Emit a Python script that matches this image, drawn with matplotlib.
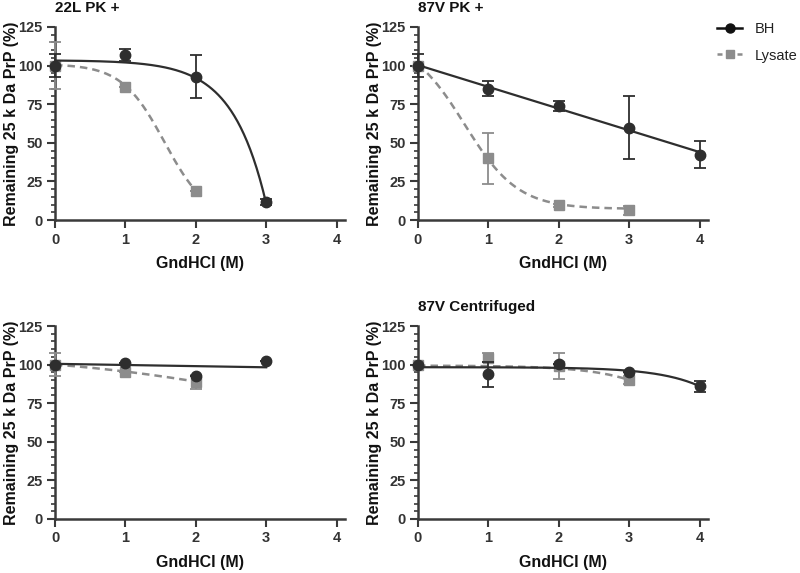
import numpy as np
import matplotlib
matplotlib.use('Agg')
import matplotlib.pyplot as plt
from matplotlib.lines import Line2D

plt.rcParams['font.family'] = ['Liberation Sans', 'DejaVu Sans']

BH_COLOR  = '#2e2e2e'
LYS_COLOR = '#8c8c8c'
AX_COLOR  = '#3a3a3a'

# -----------------------------------------------------------------------
# Data: GndHCl (M) vs remaining 25 kDa PrP (%)
# -----------------------------------------------------------------------
# 22L PK +
x_22l_bh   = [0, 1, 2, 3]
y_22l_bh   = [100.0, 106.8, 92.9, 11.7]
e_22l_bh   = [7.3, 4.0, 13.9, 2.0]
x_22l_lys  = [0, 1, 2]
y_22l_lys  = [100.0, 86.1, 18.7]
e_22l_lys  = [15.0, 0.0, 0.0]

# 87V PK +
x_87v_bh   = [0, 1, 2, 3, 4]
y_87v_bh   = [100.0, 85.1, 73.6, 59.7, 42.3]
e_87v_bh   = [7.5, 4.8, 3.3, 20.4, 8.7]
x_87v_lys  = [0, 1, 2, 3]
y_87v_lys  = [100.0, 39.9, 9.6, 6.3]
e_87v_lys  = [0.0, 16.3, 1.0, 2.9]

# unlabeled panel (bottom left)
x_bl_bh    = [0, 1, 2, 3]
y_bl_bh    = [100.0, 101.3, 92.7, 102.2]
e_bl_bh    = [0.0, 0.0, 0.0, 0.0]
x_bl_lys   = [0, 1, 2]
y_bl_lys   = [100.0, 95.5, 89.0]
e_bl_lys   = [7.5, 0.0, 4.5]

# 87V Centrifuged
x_cen_bh   = [0, 1, 2, 3, 4]
y_cen_bh   = [100.0, 93.6, 100.3, 95.5, 85.9]
e_cen_bh   = [0.0, 8.3, 0.0, 0.0, 3.5]
x_cen_lys  = [0, 1, 2, 3]
y_cen_lys  = [100.0, 104.5, 99.2, 89.9]
e_cen_lys  = [0.0, 3.0, 8.6, 2.5]

# fitted curves: (model, parameters, x range)
fit_22l_bh  = ('plateau', [103.45, 0.177, 2.087], [0, 3])
fit_22l_lys = ('boltz',   [101.0, 0.0, 1.555, 0.304], [0, 2])
fit_87v_bh  = ('linear',  None, [0, 4])
fit_87v_lys = ('boltz',   [117.0, 7.2, 0.66, 0.38], [0, 3])
fit_bl_bh   = ('line',    [100.5, -0.75], [0, 3])
fit_bl_lys  = ('quad',    None, [0, 2])
fit_cen_bh  = ('plateau', [98.32, 0.01537, 1.671], [0, 4])
fit_cen_lys = ('plateau', [99.375, 0.075, 1.609], [0, 3])


def curve(fit, xs, ys):
    model, p, (x0, x1) = fit
    xx = np.linspace(x0, x1, 200)
    if model == 'plateau':
        yy = p[0] - p[1] * np.exp(p[2] * xx)
    elif model == 'boltz':
        yy = p[1] + (p[0] - p[1]) / (1 + np.exp((xx - p[2]) / p[3]))
    elif model == 'line':
        yy = p[0] + p[1] * xx
    elif model == 'linear':
        yy = np.polyval(np.polyfit(xs, ys, 1), xx)
    else:
        yy = np.polyval(np.polyfit(xs, ys, 2), xx)
    return xx, yy


panels = [
    # title, axes position (px: left, top), bh, lys
    ('22L PK +',        (55, 27),  (x_22l_bh, y_22l_bh, e_22l_bh, fit_22l_bh),
                                   (x_22l_lys, y_22l_lys, e_22l_lys, fit_22l_lys)),
    ('87V PK +',        (418, 27), (x_87v_bh, y_87v_bh, e_87v_bh, fit_87v_bh),
                                   (x_87v_lys, y_87v_lys, e_87v_lys, fit_87v_lys)),
    ('',                (55, 326), (x_bl_bh, y_bl_bh, e_bl_bh, fit_bl_bh),
                                   (x_bl_lys, y_bl_lys, e_bl_lys, fit_bl_lys)),
    ('87V Centrifuged', (418, 326), (x_cen_bh, y_cen_bh, e_cen_bh, fit_cen_bh),
                                    (x_cen_lys, y_cen_lys, e_cen_lys, fit_cen_lys)),
]

W, H = 800, 573
AX_W, AX_H = 290, 193

fig = plt.figure(figsize=(8, 5.73), dpi=100)

for title, (left, top), bh, lys in panels:
    ax = fig.add_axes([left / W, 1 - (top + AX_H) / H, AX_W / W, AX_H / H])

    # Lysate (drawn first, behind BH)
    xs, ys, es, fit = lys
    cx, cy = curve(fit, xs, ys)
    ax.plot(cx, cy, color=LYS_COLOR, lw=1.8, ls=(0, (3, 2)), zorder=2)
    ax.errorbar(xs, ys, yerr=es, fmt='s', color=LYS_COLOR, ms=6.5,
                capsize=4, elinewidth=1.3, capthick=1.3, zorder=3, clip_on=False)

    # BH
    xs, ys, es, fit = bh
    cx, cy = curve(fit, xs, ys)
    ax.plot(cx, cy, color=BH_COLOR, lw=1.6, zorder=4)
    ax.errorbar(xs, ys, yerr=es, fmt='o', color=BH_COLOR, ms=7.5,
                capsize=4, elinewidth=1.3, capthick=1.3, zorder=5, clip_on=False)

    ax.set_xlim(0, 4.12)
    ax.set_ylim(0, 125)
    ax.set_xticks([0, 1, 2, 3, 4])
    ax.set_yticks([0, 25, 50, 75, 100, 125])
    ax.set_yticks(np.arange(0, 126, 5), minor=True)
    ax.tick_params(axis='both', which='major', direction='out', length=6,
                   width=1.5, color=AX_COLOR, labelcolor='#333333', labelsize=10.5, pad=3)
    ax.tick_params(axis='y', which='minor', direction='out', length=3,
                   width=1.2, color=AX_COLOR)
    for lab in ax.get_xticklabels() + ax.get_yticklabels():
        lab.set_fontweight('bold')
    for side in ['top', 'right']:
        ax.spines[side].set_visible(False)
    for side in ['left', 'bottom']:
        ax.spines[side].set_color(AX_COLOR)
        ax.spines[side].set_linewidth(1.8)

    # labels
    fig.text((left - 43) / W, 1 - (top + AX_H / 2) / H, 'Remaining 25 k Da PrP (%)',
             rotation=90, ha='center', va='center', fontsize=11.5,
             fontweight='bold', color='#111111')
    fig.text((left + AX_W / 2) / W, 1 - (top + 236) / H, 'GndHCl (M)',
             ha='center', va='center', fontsize=11.5, fontweight='bold', color='#111111')
    if title:
        fig.text(left / W, 1 - (top - 19) / H, title, ha='left', va='center',
                 fontsize=11, fontweight='bold', color='#111111')

handles = [
    Line2D([], [], color='#111111', lw=1.8, marker='o', ms=6.5),
    Line2D([], [], color=LYS_COLOR, lw=1.8, ls=(0, (2, 2)), marker='s', ms=6),
]
fig.legend(handles, ['BH', 'Lysate'], loc='upper left',
           bbox_to_anchor=(704 / W, 1 - 9 / H), frameon=False,
           fontsize=10.5, handlelength=1.7, handletextpad=0.9, labelspacing=0.85,
           labelcolor='#222222')

fig.savefig('out.png', dpi=100)
